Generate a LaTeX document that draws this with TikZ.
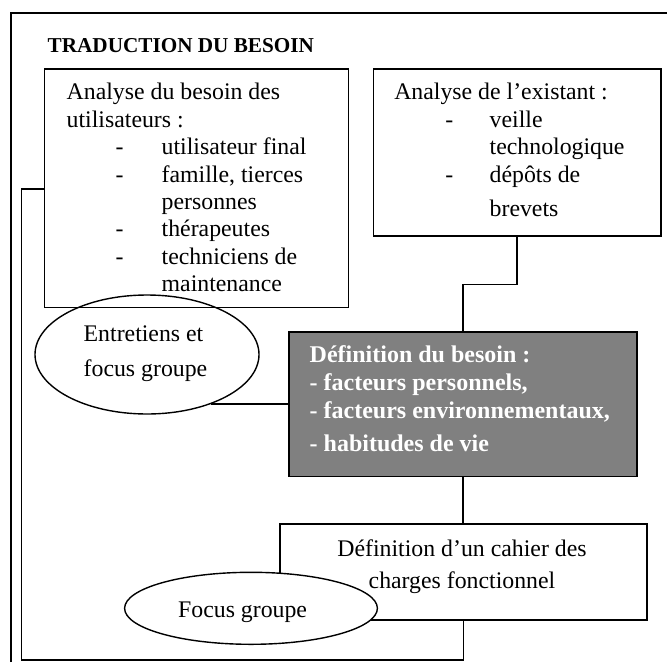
\documentclass[tikz,border=0pt]{standalone}
\usepackage{fontspec}
\setmainfont{Liberation Serif}
\usetikzlibrary{shapes.geometric}
\definecolor{darkfill}{HTML}{808080}
\begin{document}
\begin{tikzpicture}[x=1pt,y=-1pt,line width=1.4pt,
  box/.style={draw,rectangle,inner sep=0pt},
  oval/.style={draw,ellipse,inner sep=0pt},
  txt/.style={inner sep=0pt,anchor=base west,font=\fontsize{23.8}{27.5}\selectfont},
  btxt/.style={inner sep=0pt,anchor=base west,text=white,font=\fontsize{24}{28}\selectfont\bfseries},
  ctxt/.style={inner sep=0pt,anchor=base,font=\fontsize{23.8}{27.5}\selectfont}]
\useasboundingbox (0,0) rectangle (667,662);
% outer frame
\draw (11,662) -- (11,13) -- (667,13);
\node[inner sep=0pt,anchor=base west,font=\fontsize{21.2}{24}\selectfont\bfseries] (title) at (47,52.7) {TRADUCTION DU BESOIN};
% boxes
\node[box,minimum width=304pt,minimum height=238.5pt] (b1) at (196.5,188.25) {};
\node[box,minimum width=287.7pt,minimum height=167pt] (b2) at (517.15,152.5) {};
\node[box,fill=darkfill,minimum width=348pt,minimum height=144.5pt] (def) at (463,404.25) {};
\node[box,minimum width=367pt,minimum height=96pt] (b3) at (463.5,572) {};
\node[oval,minimum width=224pt,minimum height=119pt] (e1) at (147,354.5) {};
\node[oval,fill=white,minimum width=252.8pt,minimum height=72pt] (e2) at (251,608.3) {};
% connectors
\coordinate (fb) at (21.5,660);
\coordinate (fa) at (44.5,189);
\draw (b2.south) -- ++(0,48) -| (def.north);
\draw (def.south) -- (def.south |- b3.north);
\draw (b3.south) |- (fb) |- (fa);
\draw (e1.-38.8) -- (e1.-38.8 -| def.west);
% box 1 text
\node[txt] (t1) at (66,99.5) {Analyse du besoin des};
\node[txt] (t2) at (66,127) {utilisateurs :};
\node[txt] (d1) at (115,154.5) {-};
\node[txt] (t3) at (161,154.5) {utilisateur final};
\node[txt] (d2) at (115,182) {-};
\node[txt] (t4) at (161,182) {famille, tierces};
\node[txt] (t5) at (161,209) {personnes};
\node[txt] (d3) at (115,236.5) {-};
\node[txt] (t6) at (161,236.5) {thérapeutes};
\node[txt] (d4) at (115,264) {-};
\node[txt] (t7) at (161,264) {techniciens de};
\node[txt] (t8) at (161,291.5) {maintenance};
% box 2 text
\node[txt] (u1) at (393.6,99.5) {Analyse de l’existant :};
\node[txt] (ud1) at (444.7,127) {-};
\node[txt] (u2) at (489,127) {veille};
\node[txt] (u3) at (489,154.5) {technologique};
\node[txt] (ud2) at (444.7,182) {-};
\node[txt] (u4) at (489,182) {dépôts de};
\node[txt] (u5) at (489,216) {brevets};
% definition text
\node[btxt] (v1) at (309,362.7) {Définition du besoin :};
\node[btxt] (v2) at (309,390) {- facteurs personnels,};
\node[btxt] (v3) at (309,418.3) {- facteurs environnementaux,};
\node[btxt] (v4) at (309,451.7) {- habitudes de vie};
% box 3 text
\node[ctxt] (w1) at (462,556) {Définition d’un cahier des};
\node[ctxt] (w2) at (462,588) {charges fonctionnel};
% ellipse texts
\node[txt] (x1) at (83,341) {Entretiens et};
\node[txt] (x2) at (83,376) {focus groupe};
\node[ctxt] (y1) at (242.6,617) {Focus groupe};
\end{tikzpicture}
\end{document}
